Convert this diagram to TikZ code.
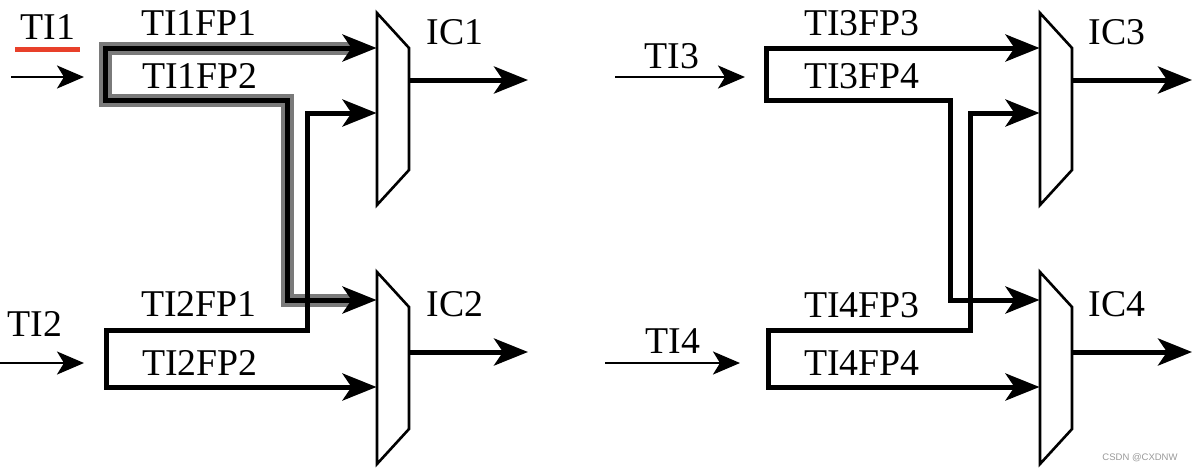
\documentclass[tikz,border=0pt]{standalone}
\usepackage{fontspec}
\setmainfont{Liberation Serif}
\newfontfamily\timesfont{Liberation Serif}
\newfontfamily\wmfont{Liberation Sans}
\usetikzlibrary{arrows.meta}
\definecolor{tired}{HTML}{E8402A}
\definecolor{halogrey}{HTML}{7A7A7A}
\begin{document}
\begin{tikzpicture}[x=1pt,y=-1pt,
  lbl/.style={inner sep=0pt,font=\timesfont\fontsize{37.8}{40}\selectfont},
  muxbox/.style={draw=black,line width=2.6pt,line join=miter,fill=white},
  thickpath/.style={draw=black,line width=5pt,line join=miter},
  halopath/.style={draw=halogrey,line width=13pt,line join=miter},
  bothtips/.style={{Stealth[length=34pt,width=27pt,inset=9pt]}-{Stealth[length=34pt,width=27pt,inset=9pt]}},
  thinarrow/.style={draw=black,line width=2.5pt,-{Stealth[length=27pt,width=23pt,inset=7pt]}},
  outarrow/.style={draw=black,line width=5pt,-{Stealth[length=34pt,width=27pt,inset=9pt]}}
]
\useasboundingbox (0,0) rectangle (1192,472);

% ---------- multiplexers (IC) ----------
\foreach \dx/\dy in {0/0, 0/259, 663/0, 663/259}{
  \begin{scope}[shift={(\dx,\dy)}]
    \draw[muxbox] (377,13) -- (409,48) -- (409,170) -- (377,205) -- cycle;
  \end{scope}
}
\coordinate (IC1-in1) at (376.5,48);
\coordinate (IC1-in2) at (376.5,113);
\coordinate (IC1-out) at (409,80);
\coordinate (IC1-end) at (528,80);
\coordinate (IC2-in1) at (376.5,300);
\coordinate (IC2-in2) at (376.5,387);
\coordinate (IC2-out) at (409,352);
\coordinate (IC2-end) at (528,352);
\coordinate (IC3-in1) at (1039.5,48);
\coordinate (IC3-in2) at (1039.5,113);
\coordinate (IC3-out) at (1072,80);
\coordinate (IC3-end) at (1192,80);
\coordinate (IC4-in1) at (1039.5,300);
\coordinate (IC4-in2) at (1039.5,387);
\coordinate (IC4-out) at (1072,352);
\coordinate (IC4-end) at (1192,352);

% labels
\node[lbl] (lIC1) at (455,32) {IC1};
\node[lbl] (lIC2) at (455,304) {IC2};
\node[lbl] (lIC3) at (1117,32) {IC3};
\node[lbl] (lIC4) at (1117,304) {IC4};

% outputs
\draw[outarrow] (IC1-out) -- (IC1-end);
\draw[outarrow] (IC2-out) -- (IC2-end);
\draw[outarrow] (IC3-out) -- (IC3-end);
\draw[outarrow] (IC4-out) -- (IC4-end);

% ---------- left half ----------
\node[lbl] (TI1) at (48,27) {TI1};
\draw[tired,line width=5pt] (15,49) -- (80,49);
\node[lbl] (TI2) at (35,324) {TI2};
\coordinate (TI1s) at (11,77);
\coordinate (TI1e) at (84,77);
\coordinate (TI2s) at (0,363);
\coordinate (TI2e) at (84,363);
\draw[thinarrow] (TI1s) -- (TI1e);
\draw[thinarrow] (TI2s) -- (TI2e);

% highlighted TI1 paths (halo)
\coordinate (h1) at (350,48);
\coordinate (h2) at (350,300);
\draw[halopath] (h1) -- (105,48) -- (105,100) -- (287,100) -- (287,300) -- (h2);
\draw[thickpath,bothtips]
  (IC1-in1) -- (105,48) -- (105,100) -- (287,100) -- (287,300) -- (IC2-in1);

% TI2 paths
\draw[thickpath,bothtips]
  (IC1-in2) -- (307,113) -- (307,330) -- (106,330) -- (106,387) -- (IC2-in2);

\node[lbl] (TI1FP1) at (199,23) {TI1FP1};
\node[lbl] (TI1FP2) at (200,76) {TI1FP2};
\node[lbl] (TI2FP1) at (199,304) {TI2FP1};
\node[lbl] (TI2FP2) at (200,363) {TI2FP2};

% ---------- right half ----------
\node[lbl] (TI3) at (672,56) {TI3};
\node[lbl] (TI4) at (673,341) {TI4};
\coordinate (TI3s) at (615,77);
\coordinate (TI3e) at (745,77);
\coordinate (TI4s) at (605,363);
\coordinate (TI4e) at (740,363);
\draw[thinarrow] (TI3s) -- (TI3e);
\draw[thinarrow] (TI4s) -- (TI4e);

\draw[thickpath,bothtips]
  (IC3-in1) -- (766,48) -- (766,100) -- (950,100) -- (950,300) -- (IC4-in1);
\draw[thickpath,bothtips]
  (IC3-in2) -- (970,113) -- (970,330) -- (768,330) -- (768,387) -- (IC4-in2);

\node[lbl] (TI3FP3) at (862,23) {TI3FP3};
\node[lbl] (TI3FP4) at (862,76) {TI3FP4};
\node[lbl] (TI4FP3) at (862,305) {TI4FP3};
\node[lbl] (TI4FP4) at (862,363) {TI4FP4};

% watermark
\node[inner sep=0pt,text=gray!80,font=\wmfont\fontsize{9.5}{10}\selectfont] (wm) at (1140,458) {CSDN @CXDNW};
\end{tikzpicture}
\end{document}
